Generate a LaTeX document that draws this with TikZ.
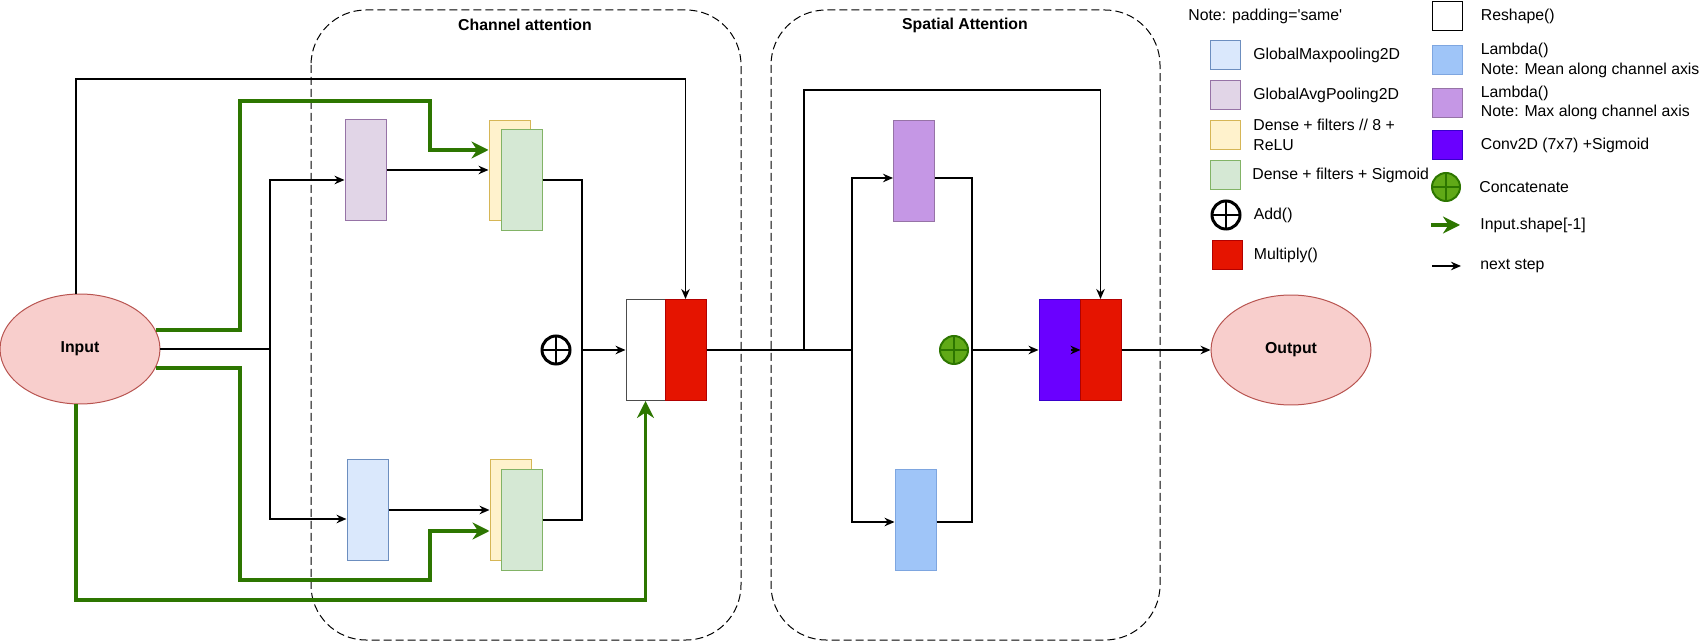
\documentclass[tikz,border=0pt]{standalone}
\usepackage{fontspec}
\setmainfont{Liberation Sans}
\usetikzlibrary{shapes.geometric, arrows.meta, positioning, calc}
\definecolor{iofill}{HTML}{F8CECC}
\definecolor{iodraw}{HTML}{B85450}
\definecolor{maxfill}{HTML}{DAE8FC}
\definecolor{maxdraw}{HTML}{6C8EBF}
\definecolor{avgfill}{HTML}{E1D5E7}
\definecolor{avgdraw}{HTML}{9673A6}
\definecolor{relufill}{HTML}{FFF2CC}
\definecolor{reludraw}{HTML}{D6B656}
\definecolor{densefill}{HTML}{D5E8D4}
\definecolor{densedraw}{HTML}{82B366}
\definecolor{mulfill}{HTML}{E51400}
\definecolor{muldraw}{HTML}{B20000}
\definecolor{convfill}{HTML}{6A00FF}
\definecolor{convdraw}{HTML}{3700CC}
\definecolor{meanfill}{HTML}{9FC5F8}
\definecolor{meandraw}{HTML}{7EA6E0}
\definecolor{lmaxfill}{HTML}{C597E5}
\definecolor{lmaxdraw}{HTML}{9673A6}
\definecolor{catfill}{HTML}{60A917}
\definecolor{catdraw}{HTML}{2D7600}
\newcommand{\figfont}{\fontsize{9pt}{11pt}\selectfont}
\tikzset{
    group/.style={draw=black, line width=0.02cm, dash pattern=on 0.16cm off 0.08cm, rounded corners=1.1cm},
    grouptitle/.style={font=\figfont\bfseries, inner sep=0},
    io/.style={ellipse, fill=iofill, draw=iodraw, line width=0.02cm, minimum width=3.2cm, minimum height=2.2cm, inner sep=0, font=\figfont\bfseries},
    block/.style={rectangle, line width=0.02cm, minimum width=0.82cm, minimum height=2.02cm, inner sep=0},
    swatch/.style={rectangle, line width=0.02cm, minimum width=0.6cm, minimum height=0.58cm, inner sep=0},
    legtext/.style={anchor=west, inner sep=0, align=left},
    addop/.style={circle, draw=black, fill=white, line width=0.06cm, minimum size=0.56cm, inner sep=0,
        path picture={\draw[line width=0.04cm] (path picture bounding box.north) -- (path picture bounding box.south)
            (path picture bounding box.west) -- (path picture bounding box.east);}},
    catop/.style={circle, draw=catdraw, fill=catfill, line width=0.04cm, minimum size=0.56cm, inner sep=0,
        path picture={\draw[catdraw, line width=0.05cm] (path picture bounding box.north) -- (path picture bounding box.south)
            (path picture bounding box.west) -- (path picture bounding box.east);}},
    line/.style={draw=black, line width=0.03cm},
    arr/.style={line, -{Stealth[length=0.2cm, width=0.17cm]}},
    gline/.style={draw=catdraw, line width=0.07cm, -{Stealth[length=0.34cm, width=0.34cm]}},
}

\begin{document}
\begin{tikzpicture}[x=0.02cm, y=-0.02cm, font=\figfont]
    \useasboundingbox (0,0) rectangle (1700,641);

    % dashed groups
    \draw[group] (311,10) rectangle (741,640);
    \draw[group] (771,10) rectangle (1160,640);
    \node[grouptitle] (catitle) at (525,25) {Channel attention};
    \node[grouptitle] (satitle) at (965,25) {Spatial Attention};

    % channel attention
    \node[io] (inp) at (80,349) {Input};
    \node[block, fill=avgfill, draw=avgdraw] (avg) at (365.5,170) {};
    \node[block, fill=maxfill, draw=maxdraw] (max) at (367.5,510) {};
    \node[block, fill=relufill, draw=reludraw] (relu1) at (509.5,170.5) {};
    \node[block, fill=densefill, draw=densedraw] (dense1) at (521.5,180) {};
    \node[block, fill=relufill, draw=reludraw] (relu2) at (510.5,510) {};
    \node[block, fill=densefill, draw=densedraw] (dense2) at (521.5,520) {};
    \node[addop] (add) at (556,350) {};
    \node[block, fill=white, draw=black!70, minimum width=0.78cm] (resh) at (645.5,350) {};
    \node[block, fill=mulfill, draw=muldraw] (mul1) at (685.5,350) {};

    \coordinate (split1) at (270,349);
    \coordinate (join1) at (582,350);
    \coordinate (skip1) at (685.5,79);
    \coordinate (g1) at (240,101);
    \coordinate (g2) at (430,150);
    \coordinate (g3) at (240,580);
    \coordinate (g4) at (430,531);
    \coordinate (g5) at (645.5,600);

    \draw[line] (inp.east) -- (split1);
    \draw[arr] (split1) |- ($(avg.west)+(0,10)$);
    \draw[arr] (split1) |- ($(max.west)+(0,9)$);
    \draw[arr] (avg.east) -- (avg.east -| relu1.west);
    \draw[arr] (max.east) -- (max.east -| relu2.west);
    \draw[line] (dense1.east) -| (join1);
    \draw[line] (dense2.east) -| (join1);
    \draw[arr] (join1) -- (resh.west);
    \draw[arr] ($(inp.north)+(-4,0)$) |- (skip1) -- (mul1.north);

    \draw[gline] (inp.14) -| (g1) -| (g2) -- (g2 -| relu1.west);
    \draw[gline] (inp.-14) -| (g3) -| (g4) -- (g4 -| relu2.west);
    \draw[gline] ($(inp.south)+(-4,0)$) |- (g5) -- (resh.south);

    % spatial attention
    \node[block, fill=lmaxfill, draw=lmaxdraw] (lmax) at (914,171) {};
    \node[block, fill=meanfill, draw=meandraw] (lmean) at (915.5,520) {};
    \node[catop] (cat) at (954,350) {};
    \node[block, fill=convfill, draw=convdraw] (conv) at (1059.5,350) {};
    \node[block, fill=mulfill, draw=muldraw] (mul2) at (1100.5,350) {};
    \node[io] (outp) at (1291,350) {Output};

    \coordinate (split2) at (804,350);
    \coordinate (split3) at (852,350);
    \coordinate (join2) at (972,350);
    \coordinate (skip2) at (1100.5,90);

    \draw[line] (mul1.east) -- (split3);
    \draw[arr] (split2) |- (skip2) -- (mul2.north);
    \draw[arr] (split3) |- ($(lmax.west)+(0,7)$);
    \draw[arr] (split3) |- ($(lmean.west)+(0,2)$);
    \draw[line] ($(lmax.east)+(0,7)$) -| (join2);
    \draw[line] ($(lmean.east)+(0,2)$) -| (join2);
    \draw[arr] (join2) -- (conv.west);
    \draw[arr] ([xshift=-0.2cm]conv.east) -- (conv.east);
    \draw[arr] (mul2.east) -- (outp.west);

    % legend
    \node[legtext] (note) at (1188,16) {Note: padding=\textquotesingle same\textquotesingle};
    \node[swatch, fill=maxfill, draw=maxdraw] (kmax) at (1225.5,55.5) {};
    \node[swatch, fill=avgfill, draw=avgdraw] (kavg) at (1225.5,95) {};
    \node[swatch, fill=relufill, draw=reludraw] (krelu) at (1225.5,135) {};
    \node[swatch, fill=densefill, draw=densedraw] (kdense) at (1225.5,175) {};
    \node[addop] (kadd) at (1226,215) {};
    \node[swatch, fill=mulfill, draw=muldraw] (kmul) at (1227,255) {};
    \node[legtext, right=0.24cm of kmax] (tmax) {GlobalMaxpooling2D};
    \node[legtext, right=0.24cm of kavg] (tavg) {GlobalAvgPooling2D};
    \node[legtext, right=0.24cm of krelu] (trelu) {Dense + filters // 8 +\\ReLU};
    \node[legtext, right=0.22cm of kdense] (tdense) {Dense + filters + Sigmoid};
    \node[legtext, right=0.24cm of kadd] (tadd) {Add()};
    \node[legtext, right=0.22cm of kmul] (tmul) {Multiply()};

    \node[swatch, fill=white, draw=black] (kresh) at (1447,16.5) {};
    \node[swatch, fill=meanfill, draw=meandraw] (kmean) at (1447,60.5) {};
    \node[swatch, fill=lmaxfill, draw=lmaxdraw] (klmax) at (1447,103) {};
    \node[swatch, fill=convfill, draw=convdraw] (kconv) at (1447,145) {};
    \node[catop] (kcat) at (1446,187) {};
    \coordinate (kg1) at (1431,225);
    \coordinate (kg2) at (1460,225);
    \coordinate (kb1) at (1432,266);
    \coordinate (kb2) at (1461,266);
    \draw[gline] (kg1) -- (kg2);
    \draw[arr] (kb1) -- (kb2);
    \node[legtext, right=0.36cm of kresh] (tresh) {Reshape()};
    \node[legtext, right=0.36cm of kmean] (tmean) {Lambda()\\Note: Mean along channel axis};
    \node[legtext, right=0.36cm of klmax] (tlmax) {Lambda()\\Note: Max along channel axis};
    \node[legtext, right=0.36cm of kconv] (tconv) {Conv2D (7x7) +Sigmoid};
    \node[legtext, right=0.36cm of kcat] (tcat) {Concatenate};
    \node[legtext, right=0.4cm of kg2] (tg) {Input.shape[-1]};
    \node[legtext, right=0.38cm of kb2] (tb) {next step};
\end{tikzpicture}
\end{document}
